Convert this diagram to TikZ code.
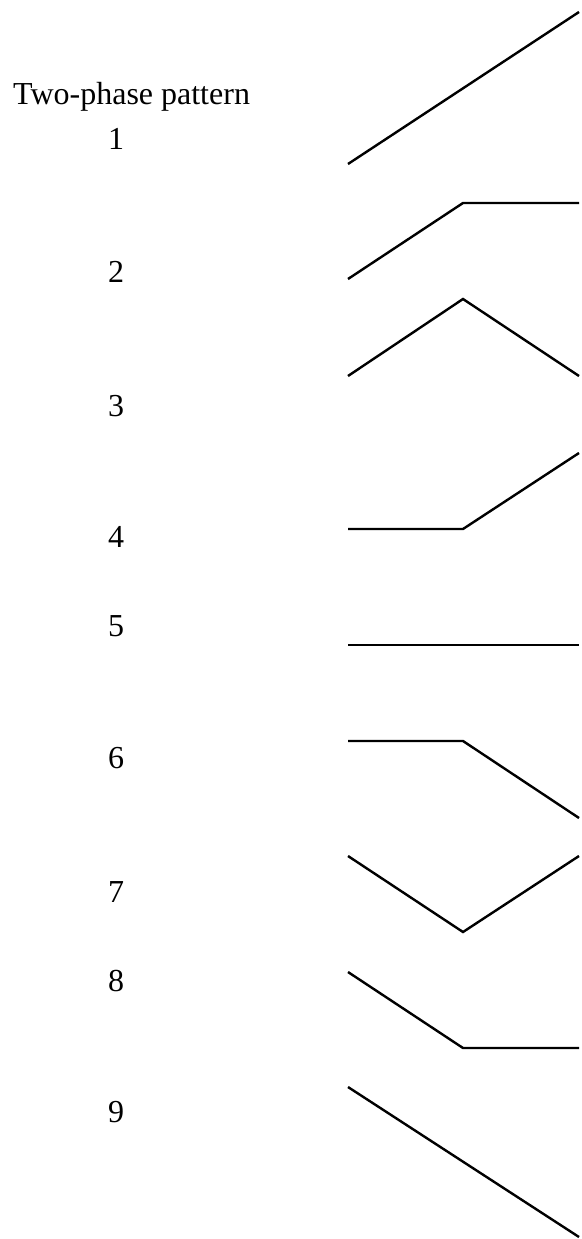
\documentclass[tikz,border=0pt]{standalone}
\usepackage{fontspec}
\setmainfont{Liberation Serif}
\begin{document}
\begin{tikzpicture}[x=1pt,y=-1pt,
  lbl/.style={inner sep=0pt,anchor=base,font=\fontsize{32}{38}\selectfont},
  seg/.style={line width=2.4pt,line join=miter,black}]
\useasboundingbox (0,0) rectangle (581,1239);
\node[lbl,anchor=base west] (title) at (13,104) {Two-phase pattern};
\node[lbl] (n1) at (116,149) {1};
\node[lbl] (n2) at (116,282) {2};
\node[lbl] (n3) at (116,416) {3};
\node[lbl] (n4) at (116,547) {4};
\node[lbl] (n5) at (116,636) {5};
\node[lbl] (n6) at (116,768) {6};
\node[lbl] (n7) at (116,902) {7};
\node[lbl] (n8) at (116,991) {8};
\node[lbl] (n9) at (116,1122) {9};
% pattern 1
\coordinate (a1) at (348,164); \coordinate (c1) at (579,12);
\draw[seg] (a1) -- (c1);
% pattern 2
\coordinate (a2) at (348,279); \coordinate (b2) at (463,203); \coordinate (c2) at (579,203);
\draw[seg] (a2) -- (b2) -- (c2);
% pattern 3
\coordinate (a3) at (348,376); \coordinate (b3) at (463,299); \coordinate (c3) at (579,376);
\draw[seg] (a3) -- (b3) -- (c3);
% pattern 4
\coordinate (a4) at (348,529); \coordinate (b4) at (463,529); \coordinate (c4) at (579,453);
\draw[seg] (a4) -- (b4) -- (c4);
% pattern 5
\coordinate (a5) at (348,645); \coordinate (c5) at (579,645);
\draw[seg] (a5) -- (c5);
% pattern 6
\coordinate (a6) at (348,741); \coordinate (b6) at (463,741); \coordinate (c6) at (579,818);
\draw[seg] (a6) -- (b6) -- (c6);
% pattern 7
\coordinate (a7) at (348,856); \coordinate (b7) at (463,932); \coordinate (c7) at (579,856);
\draw[seg] (a7) -- (b7) -- (c7);
% pattern 8
\coordinate (a8) at (348,972); \coordinate (b8) at (463,1048); \coordinate (c8) at (579,1048);
\draw[seg] (a8) -- (b8) -- (c8);
% pattern 9
\coordinate (a9) at (348,1087); \coordinate (c9) at (579,1237);
\draw[seg] (a9) -- (c9);
\end{tikzpicture}
\end{document}
